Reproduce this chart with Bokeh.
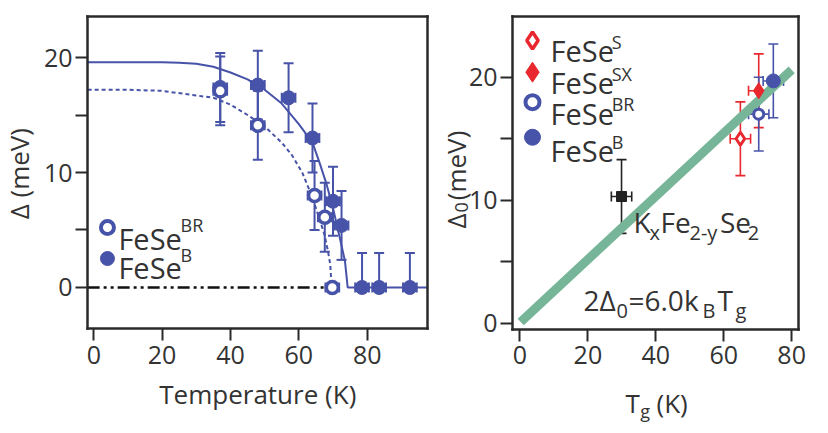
import math
from bokeh.plotting import figure
from bokeh.models import ColumnDataSource, Whisker, TeeHead, Label, FixedTicker, Range1d, LinearAxis
from bokeh.layouts import row
from bokeh.embed import file_html
from bokeh.resources import INLINE

# ---------------- data: left panel (gap vs temperature) ----------------
T_B = [37, 48, 57, 64, 70, 72.5, 78.5, 83.5, 92.5]
D_B = [17.4, 17.6, 16.5, 13.0, 7.5, 5.4, 0, 0, 0]
D_B_ERR_UP = [3, 3, 3, 3, 3, 3, 3, 3, 3]
D_B_ERR_LO = [3, 3, 3, 3, 3, 3, 0, 0, 0]
T_B_ERR = [2, 2, 2, 2, 2, 2, 2, 2, 2]

T_BR = [37, 48, 64.6, 67.6, 69.8]
D_BR = [17.1, 14.1, 8.0, 6.1, 0]
D_BR_ERR = [3, 3, 3, 3, 0]
T_BR_ERR = [2, 2, 2, 2, 2]

# fitted curves
FIT_B_T = [-1.8, 0, 10, 20, 25, 30, 35, 40, 45, 50, 55, 60, 64, 66, 68, 70, 72, 73.5, 74.3, 97.6]
FIT_B_D = [19.6, 19.6, 19.6, 19.6, 19.55, 19.45, 19.2, 18.7, 18.1, 17.2, 16.0, 14.2, 12.6, 10.9, 9.1, 6.9, 4.3, 2.3, 0, 0]
FIT_BR_T = [-1.8, 0, 10, 20, 30, 35, 40, 45, 50, 55, 58, 61, 64, 66, 67.5, 68.5, 69.2, 69.6]
FIT_BR_D = [17.2, 17.2, 17.2, 17.1, 16.7, 16.5, 15.9, 15.0, 14.0, 12.6, 11.5, 10.0, 7.8, 6.0, 4.6, 3.2, 2.0, 0]
ZERO_T = [-1.8, 69]
ZERO_D = [0, 0]

# ---------------- data: right panel (gap vs Tg) ----------------
K_TG, K_D, K_TG_ERR, K_D_ERR = [29.9], [10.3], [3], [3]
S_TG, S_D, S_TG_ERR, S_D_ERR = [64.9], [15.0], [3], [3]
SX_TG, SX_D, SX_TG_ERR, SX_D_ERR = [70.3], [18.9], [3], [3]
BR_TG, BR_D, BR_TG_ERR, BR_D_ERR = [70.3], [17.0], [3], [3]
B_TG, B_D, B_TG_ERR, B_D_ERR = [74.6], [19.7], [3], [3]
LINE_TG = [0.2, 80]
LINE_D = [0.1, 20.6]

X1_TICKS = [0, 20, 40, 60, 80]
Y1_TICKS = [0, 5, 10, 15, 20]
X2_TICKS = [0, 20, 40, 60, 80]
Y2_TICKS = [0, 5, 10, 15, 20]

FONT = "Open Sans"
BLUE = "#4753a8"
RED = "#e8282e"
DARK = "#2a2a2a"
GREEN = "#76b597"


def make_axis(loc, bounds, ticks, labels=True):
    ax = LinearAxis(fixed_location=loc, bounds=bounds, ticker=FixedTicker(ticks=ticks))
    ax.axis_line_width = 2.5
    ax.axis_line_color = DARK
    ax.axis_line_cap = "square"
    ax.major_tick_line_color = DARK if ticks else None
    ax.major_tick_line_width = 2
    ax.major_tick_out = 12
    ax.major_tick_in = 0
    ax.minor_tick_line_color = None
    ax.major_label_text_font = FONT
    ax.major_label_text_font_size = "25px"
    ax.major_label_text_color = "#333333"
    ax.major_label_overrides = {5: "", 15: ""}
    if not labels:
        ax.major_label_text_font_size = "0px"
    return ax


def frame_box(p, xb, yb, xt, yt):
    bx = make_axis(yb[0], xb, xt)
    bx.major_label_standoff = 5
    ly = make_axis(xb[0], yb, yt)
    ly.major_label_standoff = 3
    p.add_layout(bx, "below")
    p.add_layout(ly, "left")
    p.add_layout(make_axis(yb[1], xb, [], False), "above")
    p.add_layout(make_axis(xb[1], yb, [], False), "right")


def new_fig(w, xr, yr):
    p = figure(width=w, height=433, x_range=Range1d(*xr), y_range=Range1d(*yr),
               output_backend="svg", toolbar_location=None,
               x_axis_location=None, y_axis_location=None, min_border=0)
    p.grid.visible = False
    p.outline_line_color = None
    return p


def lab(p, x, y, text, size="24px", angle=0.0, align="left", baseline="alphabetic", color="#333333"):
    p.add_layout(Label(x=x, y=y, text=text, text_font=FONT, text_font_size=size,
                       text_color=color, angle=angle, text_align=align,
                       text_baseline=baseline))


def errbars(p, xs, ys, xerr, ylo, yup, color, width, head=10):
    src = ColumnDataSource(dict(x=xs, y=ys,
                                ylo=[y - e for y, e in zip(ys, ylo)],
                                yup=[y + e for y, e in zip(ys, yup)],
                                xlo=[x - e for x, e in zip(xs, xerr)],
                                xup=[x + e for x, e in zip(xs, xerr)]))
    for dim, base, lo, up in (("height", "x", "ylo", "yup"), ("width", "y", "xlo", "xup")):
        p.add_layout(Whisker(source=src, base=base, lower=lo, upper=up, dimension=dim,
                             line_color=color, line_width=width,
                             upper_head=TeeHead(size=head, line_color=color, line_width=width),
                             lower_head=TeeHead(size=head, line_color=color, line_width=width)))


# ---------------- left figure ----------------
p1 = new_fig(433, (-27.30, 99.41), (-12.70, 24.96))
frame_box(p1, (-1.85, 97.65), (-3.57, 23.57), X1_TICKS, Y1_TICKS)

p1.line(ZERO_T, ZERO_D, line_color="#111111", line_width=2.5, line_dash="12 4 3 4 3 4")
p1.line(FIT_B_T, FIT_B_D, line_color=BLUE, line_width=2)
p1.line(FIT_BR_T, FIT_BR_D, line_color=BLUE, line_width=2, line_dash="4 3")

errbars(p1, T_B, D_B, T_B_ERR, D_B_ERR_LO, D_B_ERR_UP, BLUE, 2)
errbars(p1, T_BR, D_BR, T_BR_ERR, D_BR_ERR, D_BR_ERR, BLUE, 2)

p1.scatter(T_B, D_B, size=14, marker="circle", fill_color=BLUE, line_color=BLUE)
p1.scatter(T_BR, D_BR, size=12, marker="circle", fill_color="white", line_color=BLUE, line_width=3.5)

# legend (left)
p1.scatter([4.0], [5.22], size=13, marker="circle", fill_color="white", line_color=BLUE, line_width=4)
p1.scatter([4.0], [2.52], size=14, marker="circle", fill_color=BLUE, line_color=BLUE)
lab(p1, 7.2, 4.26, "FeSe", "29px")
lab(p1, 25.4, 5.45, "BR", "18px")
lab(p1, 7.2, 1.74, "FeSe", "29px")
lab(p1, 25.4, 2.85, "B", "18px")

# axis titles (left)
lab(p1, 47.99, -9.3, "Temperature (K)", "26px", align="center", baseline="middle")
lab(p1, -22.0, 9.9, "Δ (meV)", "26px", angle=math.pi / 2, align="center", baseline="middle")

# ---------------- right figure ----------------
p2 = new_fig(387, (-25.47, 88.49), (-8.97, 26.24))
frame_box(p2, (-2.21, 82.0), (-0.51, 24.93), X2_TICKS, Y2_TICKS)

p2.line(LINE_TG, LINE_D, line_color=GREEN, line_width=9)

errbars(p2, K_TG, K_D, K_TG_ERR, K_D_ERR, K_D_ERR, "#222222", 1.6)
errbars(p2, S_TG, S_D, S_TG_ERR, S_D_ERR, S_D_ERR, RED, 1.6)
errbars(p2, SX_TG, SX_D, SX_TG_ERR, SX_D_ERR, SX_D_ERR, RED, 1.6)
errbars(p2, BR_TG, BR_D, BR_TG_ERR, BR_D_ERR, BR_D_ERR, BLUE, 1.6)
errbars(p2, B_TG, B_D, B_TG_ERR, B_D_ERR, B_D_ERR, BLUE, 1.6)

p2.scatter(K_TG, K_D, size=10, marker="square", fill_color="#222222", line_color="#222222")
p2.scatter(S_TG, S_D, size=13, marker="diamond", fill_color="white", line_color=RED, line_width=3)
p2.scatter(SX_TG, SX_D, size=16, marker="diamond", fill_color=RED, line_color=RED)
p2.scatter(BR_TG, BR_D, size=10, marker="circle", fill_color="white", line_color=BLUE, line_width=3)
p2.scatter(B_TG, B_D, size=14, marker="circle", fill_color=BLUE, line_color=BLUE)

# legend (right)
p2.scatter([3.68], [22.98], size=17, marker="diamond", fill_color="white", line_color=RED, line_width=3.5)
p2.scatter([3.68], [20.41], size=20, marker="diamond", fill_color=RED, line_color=RED)
p2.scatter([3.68], [17.97], size=14, marker="circle", fill_color="white", line_color=BLUE, line_width=4)
p2.scatter([3.68], [15.12], size=16, marker="circle", fill_color=BLUE, line_color=BLUE)
lab(p2, 8.98, 22.17, "FeSe", "29px")
lab(p2, 27.0, 22.84, "S", "18px")
lab(p2, 8.98, 19.59, "FeSe", "29px")
lab(p2, 27.0, 20.28, "SX", "18px")
lab(p2, 8.98, 17.02, "FeSe", "29px")
lab(p2, 27.0, 17.80, "BR", "18px")
lab(p2, 8.98, 14.04, "FeSe", "29px")
lab(p2, 27.0, 14.72, "B", "18px")

# compound label
lab(p2, 33.42, 8.19, "K", "28px")
lab(p2, 38.1, 7.37, "x", "20px")
lab(p2, 41.4, 8.19, "Fe", "28px")
lab(p2, 49.9, 7.37, "2-y", "20px")
lab(p2, 58.9, 8.19, "Se", "28px")
lab(p2, 67.1, 7.37, "2", "20px")

# relation label
lab(p2, 18.7, 1.85, "2Δ", "28px")
lab(p2, 28.42, 1.03, "0", "20px")
lab(p2, 31.95, 1.85, "=6.0k", "28px")
lab(p2, 53.74, 1.03, "B", "20px")
lab(p2, 58.16, 1.85, "T", "28px")
lab(p2, 63.46, 1.03, "g", "20px")

# axis titles (right)
lab(p2, 31.07, -6.53, "T", "26px")
lab(p2, 35.4, -7.18, "g", "18px")
lab(p2, 40.19, -6.53, "(K)", "26px")
lab(p2, -18.70, 7.70, "Δ", "26px", angle=math.pi / 2)
lab(p2, -17.23, 9.0, "0", "18px", angle=math.pi / 2)
lab(p2, -18.70, 10.0, "(meV)", "26px", angle=math.pi / 2)

layout = row(p1, p2)
open("out.html", "w").write(file_html(layout, INLINE))
